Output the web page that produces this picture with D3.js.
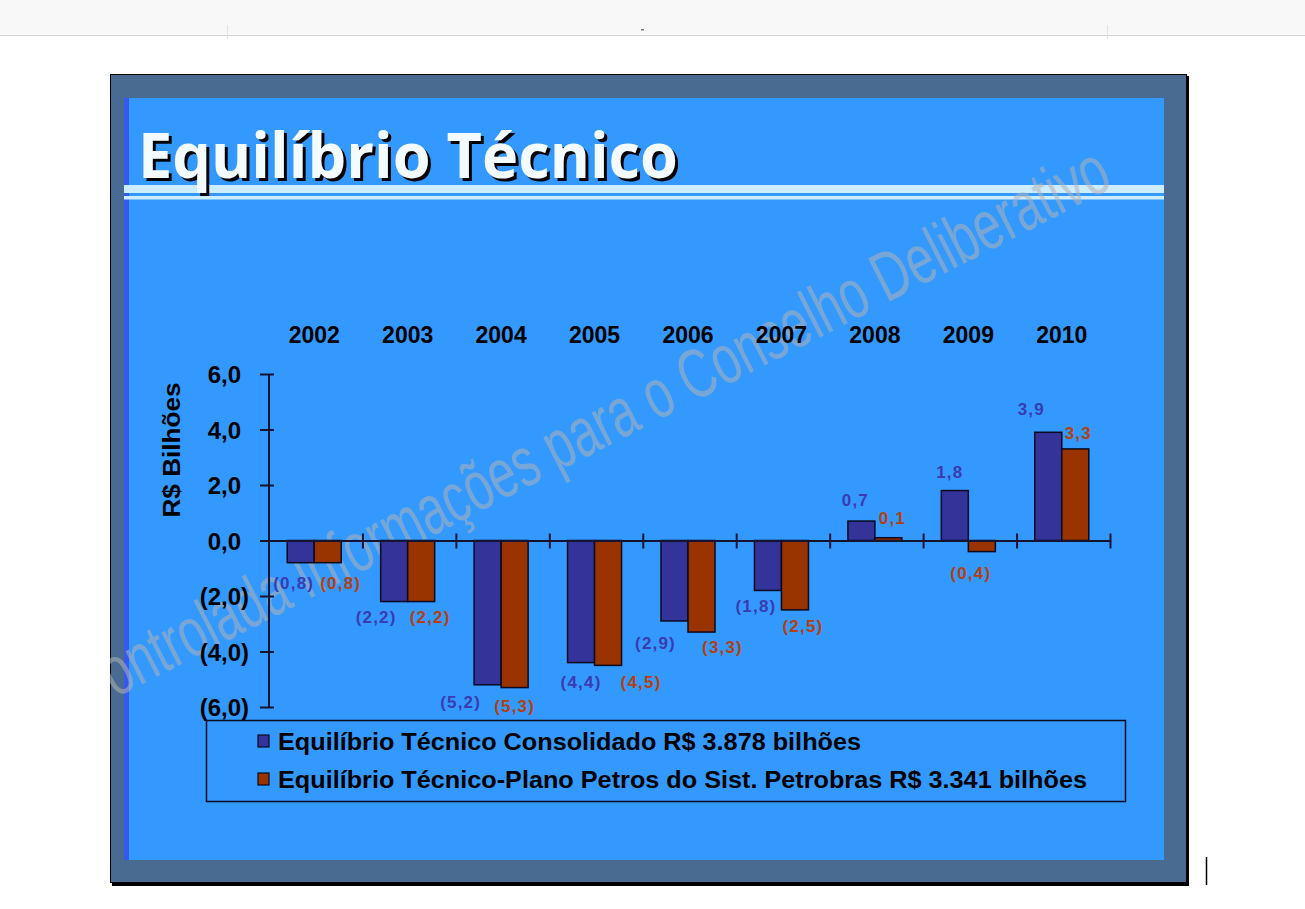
<!DOCTYPE html>
<html>
<head>
<meta charset="utf-8">
<script src="https://cdn.jsdelivr.net/npm/d3@7"></script>
<style>
  html, body { margin: 0; padding: 0; background: #ffffff; }
  svg { display: block; }
</style>
</head>
<body>
<script>
// ---------------- data ----------------
const years = ["2002", "2003", "2004", "2005", "2006", "2007", "2008", "2009", "2010"];
const consolidado = [-0.8, -2.2, -5.2, -4.4, -2.9, -1.8, 0.7, 1.8, 3.9];
const planoPetros = [-0.8, -2.2, -5.3, -4.5, -3.3, -2.5, 0.1, -0.4, 3.3];
const seriesNames = [
  "Equilíbrio Técnico Consolidado R$ 3.878 bilhões",
  "Equilíbrio Técnico-Plano Petros do Sist. Petrobras R$ 3.341 bilhões"
];
const yTickValues = [6, 4, 2, 0, -2, -4, -6];
const titleText = "Equilíbrio Técnico";
const yTitle = "R$ Bilhões";
const watermarkText = "Controlada Informações para o Conselho Deliberativo";

// ---------------- layout / style (not data) ----------------
const W = 1305, H = 909;
const barColors = ["#333399", "#993300"];
const labelColors = ["#3b3bb0", "#b5400c"];
// manual nudges of data labels (px) relative to bar centre / bar end, as placed in the slide
const labelNudge = [
  [[-7, 20], [-18, 15], [-27, 17], [0, 19], [-19, 21.5], [-12, 15], [-6, -21.5], [-5, -19], [-17, -23]],
  [[13, 20], [9, 15], [0, 18], [33, 17], [21, 14.5], [8, 16], [4, -20], [-11, 21], [3, -16.5]]
];

const fmt = v => {
  const s = d3.format(".1f")(Math.abs(v)).replace(".", ",");
  return v < 0 ? "(" + s + ")" : s;
};

const svg = d3.select("body").append("svg").attr("width", W).attr("height", H);

// ---------------- page chrome ----------------
svg.append("rect").attr("x", 0).attr("y", 0).attr("width", W).attr("height", 35).attr("fill", "#f8f8f8");
svg.append("line").attr("x1", 0).attr("x2", W).attr("y1", 35.5).attr("y2", 35.5).attr("stroke", "#d2d2d2").attr("stroke-width", 1.2);
[227, 1107].forEach(x => svg.append("line").attr("x1", x + 0.5).attr("x2", x + 0.5).attr("y1", 25).attr("y2", 39).attr("stroke", "#e2e2e2"));
svg.append("rect").attr("x", 641).attr("y", 29).attr("width", 3).attr("height", 1.5).attr("fill", "#777");
svg.append("line").attr("x1", 1206.5).attr("x2", 1206.5).attr("y1", 857).attr("y2", 885).attr("stroke", "#000").attr("stroke-width", 1.5);

// slide frame
svg.append("rect").attr("x", 112).attr("y", 76).attr("width", 1077).attr("height", 810).attr("fill", "#000");
svg.append("rect").attr("x", 110.5).attr("y", 74.5).attr("width", 1076).attr("height", 808)
  .attr("fill", "#4a6b91").attr("stroke", "#000").attr("stroke-width", 1);
// inner bright panel
svg.append("rect").attr("x", 124).attr("y", 98).attr("width", 1040).attr("height", 762).attr("fill", "#3399ff");
svg.append("rect").attr("x", 124).attr("y", 98).attr("width", 5).attr("height", 762).attr("fill", "#3558ee");

// title bands
svg.append("rect").attr("x", 124).attr("y", 185).attr("width", 1040).attr("height", 8).attr("fill", "#ccecff");
svg.append("rect").attr("x", 124).attr("y", 196).attr("width", 1040).attr("height", 3.5).attr("fill", "#ccecff");

// title with shadow
const titleFont = "'Open Sans', 'DejaVu Sans', sans-serif";
svg.append("text").text(titleText).attr("x", 141).attr("y", 181)
  .attr("font-family", titleFont).attr("font-weight", 700).attr("font-size", 63)
  .attr("textLength", 540).attr("lengthAdjust", "spacingAndGlyphs").attr("fill", "#000");
svg.append("text").text(titleText).attr("x", 138).attr("y", 178)
  .attr("font-family", titleFont).attr("font-weight", 700).attr("font-size", 63)
  .attr("textLength", 540).attr("lengthAdjust", "spacingAndGlyphs").attr("fill", "#f4fbff");

// ---------------- scales ----------------
const x0 = d3.scaleBand().domain(years).range([269, 1110]).padding(0);
const groupW = 54;
const x1 = d3.scaleBand().domain([0, 1]).range([0, groupW]).padding(0);
const groupOffset = (x0.bandwidth() - groupW) / 2 - 1.5;
const y = d3.scaleLinear().domain([-6, 6]).range([707, 374]);

const font = "'Liberation Sans', Arial, sans-serif";
const axisColor = "#141432";

// ---------------- watermark (drawn under the chart marks) ----------------
svg.append("clipPath").attr("id", "slideClip").append("rect")
  .attr("x", 110).attr("y", 74).attr("width", 1077).attr("height", 810);
svg.append("g").attr("clip-path", "url(#slideClip)")
  .append("text").text(watermarkText)
  .attr("transform", "translate(84,714) rotate(-27.1)")
  .attr("font-family", "'Liberation Sans Narrow', 'Liberation Sans', Arial, sans-serif")
  .attr("font-size", 70)
  .attr("textLength", 1158).attr("lengthAdjust", "spacingAndGlyphs")
  .attr("fill", "rgb(178,178,178)").attr("fill-opacity", 0.55);

// ---------------- bars ----------------
const seriesData = [consolidado, planoPetros];
seriesData.forEach((vals, si) => {
  svg.append("g").selectAll("rect").data(vals).join("rect")
    .attr("x", (d, i) => x0(years[i]) + groupOffset + x1(si))
    .attr("width", x1.bandwidth())
    .attr("y", d => y(Math.max(0, d)))
    .attr("height", d => Math.abs(y(d) - y(0)))
    .attr("fill", barColors[si])
    .attr("stroke", "#0a0a1e").attr("stroke-width", 1.5);
});

// ---------------- y axis ----------------
const yAxis = d3.axisLeft(y).tickValues(yTickValues).tickSize(9).tickFormat(fmt);
const gy = svg.append("g").attr("transform", "translate(269,0)").call(yAxis);
gy.select(".domain").attr("stroke", axisColor).attr("stroke-width", 2).attr("d", "M0," + y(6) + "V" + y(-6));
gy.selectAll(".tick line").attr("x1", 5).attr("stroke", axisColor).attr("stroke-width", 2);
gy.selectAll(".tick text")
  .attr("x", d => d < 0 ? -20 : -28)
  .attr("dy", "0.36em")
  .attr("font-family", font).attr("font-weight", 700).attr("font-size", 24).attr("fill", "#000");

// ---------------- x axis (zero line with crossing ticks at category boundaries) ----------------
const xb = d3.scaleLinear().domain([0, years.length]).range([269, 1110]);
const xAxis = d3.axisBottom(xb).tickValues(d3.range(1, years.length + 1)).tickSize(8).tickSizeOuter(0).tickFormat("");
const gx = svg.append("g").attr("transform", "translate(0," + y(0) + ")").call(xAxis);
gx.select(".domain").attr("stroke", axisColor).attr("stroke-width", 2);
gx.selectAll(".tick line").attr("y1", -7).attr("stroke", axisColor).attr("stroke-width", 2);

// year labels at top
const gt = svg.append("g").attr("transform", "translate(" + (-1.5) + ",343)")
  .call(d3.axisTop(x0).tickSize(0).tickPadding(0));
gt.select(".domain").remove();
gt.selectAll(".tick text").attr("font-family", font).attr("font-weight", 700).attr("font-size", 23)
  .attr("fill", "#000").attr("dy", 0);

// y title
svg.append("text").text(yTitle)
  .attr("transform", "translate(180,450) rotate(-90)")
  .attr("text-anchor", "middle")
  .attr("font-family", font).attr("font-weight", 700).attr("font-size", 24)
  .attr("textLength", 135).attr("lengthAdjust", "spacingAndGlyphs").attr("fill", "#000");

// ---------------- data labels ----------------
seriesData.forEach((vals, si) => {
  svg.append("g").selectAll("text").data(vals).join("text")
    .text(d => fmt(d))
    .attr("x", (d, i) => x0(years[i]) + groupOffset + x1(si) + x1.bandwidth() / 2 + labelNudge[si][i][0])
    .attr("y", (d, i) => y(d) + labelNudge[si][i][1])
    .attr("dy", "0.36em")
    .attr("text-anchor", "middle")
    .attr("font-family", font).attr("font-weight", 700).attr("font-size", 17)
    .attr("letter-spacing", 1.2)
    .attr("fill", labelColors[si]);
});

// ---------------- legend ----------------
svg.append("rect").attr("x", 206.5).attr("y", 720.5).attr("width", 919).attr("height", 81)
  .attr("fill", "none").attr("stroke", "#0a0a1e").attr("stroke-width", 1.5);
const legendLens = [583, 809];
seriesNames.forEach((name, i) => {
  const cy = 741 + i * 38;
  svg.append("rect").attr("x", 258).attr("y", cy - 6).attr("width", 11).attr("height", 12)
    .attr("fill", barColors[i]).attr("stroke", "#0a0a1e").attr("stroke-width", 1.2);
  svg.append("text").text(name).attr("x", 278).attr("y", cy + 8.5)
    .attr("font-family", font).attr("font-weight", 700).attr("font-size", 23)
    .attr("textLength", legendLens[i]).attr("lengthAdjust", "spacingAndGlyphs").attr("fill", "#000");
});
</script>
</body>
</html>
